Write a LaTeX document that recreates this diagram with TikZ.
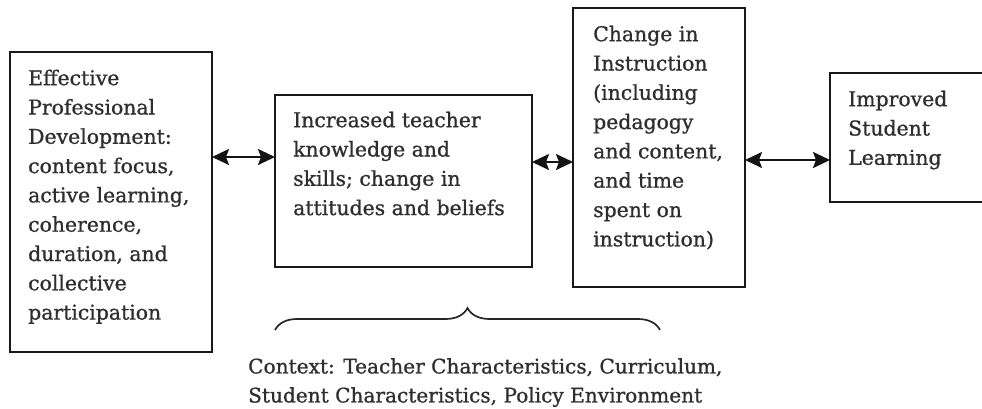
\documentclass[tikz,border=0pt]{standalone}
\usepackage{fontspec}
\setmainfont{DejaVu Serif}
\newfontfamily\boxfont{DejaVu Serif}[FakeBold=0.9]
\usetikzlibrary{arrows.meta,decorations.pathreplacing}
\begin{document}
\begin{tikzpicture}[x=1pt,y=-1pt,
  box/.style={draw=black!90, line width=2.2pt, rectangle, inner sep=0pt, outer sep=0pt, anchor=north west},
  txt/.style={anchor=north west, inner sep=0pt, align=left, text=black!82,
    font=\boxfont\fontsize{20.4}{29.3}\selectfont},
  link/.style={line width=2.2pt, draw=black!92,
    {Stealth[length=17pt,width=16pt,inset=3pt]}-{Stealth[length=17pt,width=16pt,inset=3pt]}},
  bracket/.style={decorate, decoration={brace, amplitude=22pt}, line width=1.7pt, draw=black!85}
]
\useasboundingbox (0,0) rectangle (982,408);
\clip (0,0) rectangle (982,408);

% boxes of the chain
\node[box, minimum width=202pt, minimum height=300pt] (pd) at (10,52) {};
\node[box, minimum width=257pt, minimum height=172pt] (tk) at (275,95) {};
\node[box, minimum width=172pt, minimum height=279pt] (ci) at (573,8) {};
\node[box, minimum width=200pt, minimum height=129pt] (sl) at (830,73) {};

% box texts
\node[txt] (pdt) at (28,69.5) {Effective\\Professional\\Development:\\content focus,\\active learning,\\coherence,\\duration, and\\collective\\participation};
\node[txt] (tkt) at (293,111.5) {Increased teacher\\knowledge and\\skills; change in\\attitudes and beliefs};
\node[txt] (cit) at (593,25.5) {Change in\\Instruction\\(including\\pedagogy\\and content,\\and time\\spent on\\instruction)};
\node[txt] (slt) at (848,90.5) {Improved\\Student\\Learning};

% rows of the connectors
\coordinate (r1) at (0,157);
\coordinate (r2) at (0,162);
\coordinate (r3) at (0,160);

\draw[link] (pd.east |- r1) -- (tk.west |- r1);
\draw[link] (tk.east |- r2) -- (ci.west |- r2);
\draw[link] (ci.east |- r3) -- (sl.west |- r3);

% context brace and its label
\coordinate (bl) at (275,330);
\coordinate (br) at (660,330);
\draw[bracket] (bl) -- (br);
\node[txt, font=\boxfont\fontsize{20.1}{29}\selectfont] (ctx) at (248,358) {Context: Teacher Characteristics, Curriculum,\\Student Characteristics, Policy Environment};
\end{tikzpicture}
\end{document}
